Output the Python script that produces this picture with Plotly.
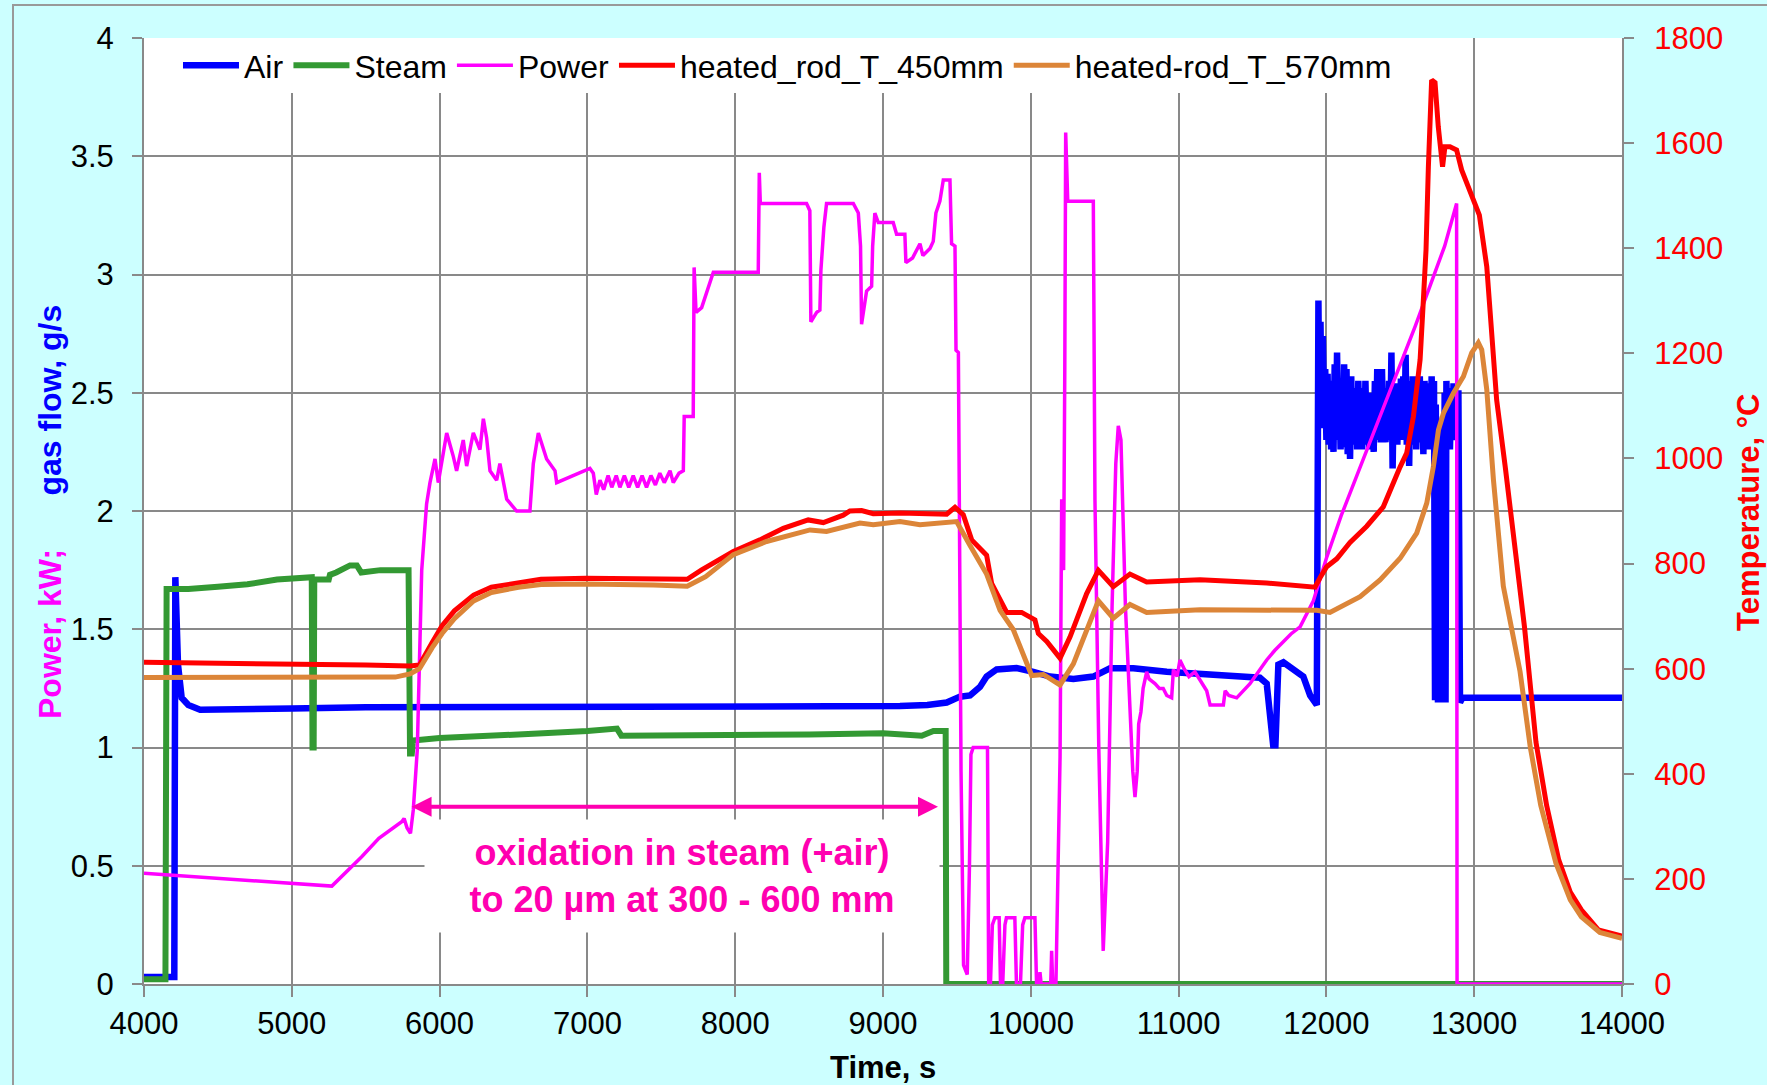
import plotly.graph_objects as go

# ---------------- data ----------------
air_t = [4000, 4195, 4205, 4212, 4230, 4255, 4300, 4380, 4500, 5000, 5500, 6000, 6500, 7000, 7500,
         8000, 8500, 9000, 9115, 9300, 9431, 9521, 9589, 9656, 9701, 9769, 9904, 10017, 10130, 10288,
         10423, 10536, 10694, 10920, 11145, 11370, 11550, 11596, 11625, 11640, 11655, 11675, 11709,
         11777, 11844, 11890, 11935,
         11946, 11952, 11960, 11968, 11976, 11984, 11992, 12000, 12008, 12016,
         12024, 12032, 12040, 12048, 12056, 12064, 12072, 12080, 12088, 12096,
         12104, 12112, 12120, 12128, 12136, 12144, 12152, 12160, 12168, 12176,
         12184, 12192, 12200, 12208, 12216, 12224, 12232, 12240, 12248, 12256,
         12264, 12272, 12280, 12288, 12296, 12304, 12312, 12320, 12328, 12336,
         12344, 12352, 12360, 12368, 12376, 12384, 12392, 12400, 12408, 12416,
         12424, 12432, 12440, 12448, 12456, 12464, 12472, 12480, 12488, 12496,
         12504, 12512, 12520, 12528, 12536, 12544, 12552, 12560, 12568, 12576,
         12584, 12592, 12600, 12608, 12616, 12624, 12632, 12640, 12648, 12656,
         12664, 12672, 12680, 12688, 12696, 12704, 12712, 12720, 12728, 12735,
         12740, 12745, 12750, 12755, 12760, 12765, 12770, 12775, 12780, 12785,
         12790, 12795, 12800, 12806, 12812, 12820, 12828, 12836, 12844, 12852,
         12860, 12868, 12876, 12884, 12893, 12904, 12920, 12950, 13500, 14000]
air_v = [0.03, 0.03, 0.03, 1.72, 1.35, 1.21, 1.18, 1.16, 1.16, 1.165, 1.17, 1.17, 1.17, 1.175, 1.175,
         1.175, 1.175, 1.175, 1.175, 1.18, 1.19, 1.215, 1.22, 1.256, 1.30, 1.33, 1.336, 1.32, 1.30, 1.29,
         1.30, 1.335, 1.335, 1.32, 1.31, 1.30, 1.295, 1.27, 1.10, 1.01, 1.01, 1.35, 1.36,
         1.33, 1.30, 1.22, 1.18,
         2.89, 2.40, 2.80, 2.35, 2.74, 2.43, 2.60, 2.30, 2.58, 2.28,
         2.55, 2.26, 2.52, 2.25, 2.62, 2.30, 2.67, 2.33, 2.55, 2.26,
         2.50, 2.27, 2.62, 2.30, 2.60, 2.24, 2.50, 2.22, 2.57, 2.30,
         2.50, 2.28, 2.52, 2.26, 2.55, 2.30, 2.48, 2.26, 2.52, 2.28,
         2.55, 2.31, 2.50, 2.26, 2.48, 2.28, 2.50, 2.25, 2.55, 2.30,
         2.60, 2.32, 2.58, 2.29, 2.60, 2.33, 2.52, 2.29, 2.50, 2.30,
         2.55, 2.32, 2.67, 2.18, 2.50, 2.30, 2.54, 2.28, 2.52, 2.30,
         2.56, 2.31, 2.57, 2.30, 2.66, 2.28, 2.50, 2.19, 2.55, 2.30,
         2.57, 2.28, 2.50, 2.26, 2.55, 2.29, 2.57, 2.30, 2.52, 2.24,
         2.55, 2.30, 2.50, 2.26, 2.54, 2.28, 2.57, 2.30, 2.55, 1.20,
         2.45, 1.19, 2.40, 1.19, 2.35, 1.19, 2.30, 1.19, 2.35, 1.19,
         2.40, 1.19, 2.50, 1.19, 2.55, 2.30, 2.52, 2.26, 2.50, 2.30,
         2.54, 2.35, 2.50, 2.33, 2.51, 1.19, 1.21, 1.21, 1.21, 1.21]

steam_t = [4000, 4145, 4153, 4300, 4500, 4700, 4900, 5100, 5135, 5140, 5148, 5152, 5250, 5258, 5300,
           5394, 5440, 5470, 5600, 5790, 5800, 5812, 5820, 6000, 6500, 6700, 7000, 7200, 7230, 7500,
           8000, 8500, 9000, 9262, 9341, 9424, 9428, 14000]
steam_v = [0.02, 0.02, 1.67, 1.67, 1.68, 1.69, 1.71, 1.72, 1.72, 1.00, 1.00, 1.71, 1.71, 1.73, 1.74,
           1.77, 1.77, 1.74, 1.75, 1.75, 0.975, 0.975, 1.03, 1.04, 1.05, 1.06, 1.07, 1.08, 1.05, 1.05,
           1.05, 1.055, 1.06, 1.05, 1.07, 1.07, 0.0, 0.0]

power_t = [4000, 5271, 5473, 5589, 5744, 5760, 5780, 5803, 5822, 5849, 5879, 5912, 5935, 5969, 5991,
           6048, 6093, 6115, 6160, 6183, 6228, 6273, 6296, 6318, 6341, 6386, 6408, 6454, 6521, 6611,
           6634, 6668, 6724, 6781, 6792, 6905, 7017, 7040, 7060, 7085, 7110, 7140, 7165, 7195, 7220,
           7250, 7280, 7310, 7340, 7370, 7400, 7430, 7460, 7490, 7520, 7559, 7581, 7620, 7649, 7655,
           7716, 7722, 7735, 7773, 7852, 8156, 8163, 8170, 8483, 8505, 8512, 8551, 8573, 8580, 8600,
           8618, 8799, 8833, 8848, 8855, 8870, 8889, 8923, 8930, 8945, 8968, 9069, 9092, 9148, 9155,
           9200, 9250, 9270, 9318, 9340, 9358, 9385, 9408, 9453, 9464, 9487, 9494, 9510, 9517, 9528,
           9545, 9570, 9585, 9595, 9610, 9707, 9715, 9727, 9740, 9757, 9786, 9795, 9810, 9825, 9835,
           9892, 9903, 9930, 9945, 9960, 10028, 10039, 10055, 10062, 10070, 10135, 10141, 10148, 10170,
           10198, 10209, 10222, 10230, 10236, 10250, 10423, 10434, 10460, 10490, 10520, 10550, 10575,
           10592, 10610, 10640, 10660, 10690, 10705, 10720, 10730, 10745, 10760, 10784, 10800, 10840,
           10870, 10896, 10920, 10953, 10965, 10990, 11009, 11040, 11070, 11110, 11150, 11190, 11213,
           11303, 11315, 11340, 11393, 11440, 11483, 11540, 11596, 11650, 11709, 11760, 11822, 11912,
           12000, 12100, 12200, 12300, 12400, 12500, 12600, 12700, 12800, 12881, 12884, 14000]
power_v = [0.468, 0.414, 0.538, 0.616, 0.686, 0.70, 0.66, 0.637, 0.736, 0.99, 1.75, 2.03, 2.12, 2.22, 2.12,
           2.33, 2.23, 2.17, 2.30, 2.19, 2.33, 2.26, 2.39, 2.31, 2.17, 2.13, 2.20, 2.05, 2.00, 2.00,
           2.20, 2.33, 2.22, 2.17, 2.12, 2.15, 2.18, 2.16, 2.07, 2.13, 2.09, 2.15, 2.10, 2.15, 2.10,
           2.15, 2.10, 2.15, 2.10, 2.15, 2.10, 2.15, 2.11, 2.16, 2.12, 2.17, 2.12, 2.16, 2.17, 2.40,
           2.40, 3.03, 2.84, 2.86, 3.01, 3.01, 3.43, 3.30, 3.30, 3.27, 2.80, 2.84, 2.85, 3.02, 3.20,
           3.30, 3.30, 3.26, 3.12, 2.79, 2.85, 2.93, 2.95, 3.12, 3.26, 3.22, 3.22, 3.17, 3.17, 3.05,
           3.07, 3.13, 3.08, 3.11, 3.14, 3.26, 3.31, 3.40, 3.40, 3.13, 3.12, 2.68, 2.67, 2.05, 0.9,
           0.08, 0.04, 0.5, 0.97, 1.0, 1.0, 0.0, 0.0, 0.25, 0.28, 0.28, 0.0, 0.0, 0.25, 0.28,
           0.28, 0.0, 0.0, 0.25, 0.28, 0.28, 0.0, 0.0, 0.05, 0.0, 0.0, 0.14, 0.0, 0.0,
           0.96, 2.05, 1.75, 2.60, 3.60, 3.31, 3.31, 2.05, 1.00, 0.14, 0.60, 1.60, 2.20,
           2.36, 2.30, 1.60, 1.30, 0.90, 0.79, 0.90, 1.10, 1.15, 1.25, 1.32, 1.29, 1.27,
           1.25, 1.25, 1.22, 1.21, 1.33, 1.30, 1.37, 1.33, 1.30, 1.32, 1.28, 1.24, 1.18,
           1.18, 1.24, 1.22, 1.21, 1.24, 1.27, 1.32, 1.37, 1.41, 1.45, 1.48, 1.51, 1.62,
           1.80, 1.98, 2.14, 2.30, 2.46, 2.61, 2.78, 2.95, 3.12, 3.30, 0.0, 0.0]

t450_t = [4000, 4500, 5000, 5500, 5800, 5864, 5950, 6017, 6100, 6230, 6350, 6534, 6686, 6990, 7447,
          7675, 7773, 7987, 8167, 8325, 8494, 8596, 8731, 8776, 8855, 8934, 9115, 9250, 9431, 9487,
          9543, 9600, 9701, 9735, 9837, 9938, 10028, 10051, 10108, 10198, 10265, 10378, 10457, 10558,
          10671, 10784, 11145, 11596, 11923, 11957, 12002, 12070, 12160, 12273, 12385, 12499, 12543,
          12589, 12634, 12656, 12674, 12690, 12712, 12735, 12757, 12786, 12802, 12836, 12881, 12915,
          12972, 13035, 13085, 13119, 13152, 13210, 13280, 13340, 13418, 13490, 13572, 13650, 13725,
          13840, 14000]
t450_v = [612, 611, 609, 607, 605, 607, 650, 682, 710, 740, 755, 764, 770, 772, 770,
          770, 788, 823, 845, 867, 883, 878, 892, 900, 901, 895, 896, 895, 894, 907,
          893, 845, 816, 762, 707, 707, 693, 667, 652, 620, 660, 743, 787, 756,
          780, 765, 769, 763, 755, 773, 794, 809, 840, 871, 908, 984, 1010,
          1080, 1188, 1301, 1397, 1555, 1720, 1715, 1631, 1555, 1593, 1593, 1587, 1549,
          1505, 1463, 1365, 1238, 1111, 984, 820, 680, 460, 340, 236, 175, 141,
          103, 91]

t570_t = [4000, 5000, 5500, 5700, 5800, 5864, 5950, 6017, 6100, 6230, 6350, 6534, 6686, 6990, 7447,
          7675, 7800, 7987, 8212, 8506, 8618, 8844, 8934, 9115, 9250, 9498, 9588, 9701, 9792, 9882,
          10006, 10085, 10198, 10288, 10457, 10558, 10671, 10784, 11145, 11934, 12024, 12093, 12228,
          12363, 12499, 12611, 12679, 12724, 12758, 12792, 12859, 12927, 12983, 13028, 13051, 13085,
          13130, 13197, 13265, 13310, 13380, 13450, 13553, 13650, 13725, 13850, 14000]
t570_v = [583, 583, 582, 584, 590, 600, 640, 667, 695, 729, 745, 755, 760, 761, 759,
          757, 775, 817, 842, 864, 861, 877, 874, 880, 874, 880, 835, 780, 711, 674,
          587, 589, 569, 609, 729, 696, 722, 707, 712, 711, 707, 718, 737,
          769, 810, 858, 915, 985, 1054, 1086, 1124, 1156, 1201, 1220, 1207, 1131,
          960, 757, 660, 595, 450, 340, 230, 160, 128, 98, 87]

x_ticks = [4000, 5000, 6000, 7000, 8000, 9000, 10000, 11000, 12000, 13000, 14000]
y_ticks = [0, 0.5, 1, 1.5, 2, 2.5, 3, 3.5, 4]
y2_ticks = [0, 200, 400, 600, 800, 1000, 1200, 1400, 1600, 1800]

FONT = "Arial, Liberation Sans, sans-serif"
GRID = "#898989"
PINK = "#FF00B0"

fig = go.Figure()
fig.add_trace(go.Scatter(x=air_t, y=air_v, name="Air", mode="lines",
                         line=dict(color="#0000FF", width=6.5)))
fig.add_trace(go.Scatter(x=steam_t, y=steam_v, name="Steam", mode="lines",
                         line=dict(color="#339933", width=6)))
fig.add_trace(go.Scatter(x=power_t, y=power_v, name="Power", mode="lines",
                         line=dict(color="#FF00FF", width=3.5)))
fig.add_trace(go.Scatter(x=t450_t, y=t450_v, name="heated_rod_T_450mm", mode="lines", yaxis="y2",
                         line=dict(color="#FF0000", width=5)))
fig.add_trace(go.Scatter(x=t570_t, y=t570_v, name="heated-rod_T_570mm", mode="lines", yaxis="y2",
                         line=dict(color="#DC8538", width=5)))

fig.update_layout(
    width=1767, height=1085, autosize=False,
    margin=dict(l=144, r=145, t=38, b=101),
    paper_bgcolor="#CCFFFF", plot_bgcolor="#FFFFFF",
    font=dict(family=FONT, size=31, color="#000000"),
    showlegend=True,
    legend=dict(orientation="h", x=0.023, y=1.0, xanchor="left", yanchor="top",
                bgcolor="#FFFFFF", borderwidth=0, font=dict(size=32, family=FONT),
                itemwidth=56, tracegroupgap=0),
    xaxis=dict(range=[4000, 14000], tickvals=x_ticks, tickformat="d", showgrid=True, gridcolor=GRID,
               gridwidth=2, showline=True, linecolor=GRID, linewidth=2, ticks="outside", ticklen=11,
               tickwidth=2, tickcolor=GRID, zeroline=False, ticklabelstandoff=0,
               tickfont=dict(size=31, color="#000000")),
    yaxis=dict(range=[0, 4], tickvals=y_ticks, showgrid=True, gridcolor=GRID, gridwidth=2,
               showline=True, linecolor=GRID, linewidth=2, ticks="outside", ticklen=10,
               tickwidth=2, tickcolor=GRID, zeroline=False, ticklabelstandoff=12,
               tickfont=dict(size=31, color="#000000")),
    yaxis2=dict(range=[0, 1800], tickvals=y2_ticks, tickformat="d", overlaying="y", side="right",
                showgrid=False, showline=True, linecolor=GRID, linewidth=2, ticks="outside", ticklen=10,
                tickwidth=2, tickcolor=GRID, zeroline=False, ticklabelstandoff=14,
                tickfont=dict(size=31, color="#FF0000")),
)

L, T, PW, PH = 144, 38, 1478, 946


def px_x(p):
    return (p - L) / PW


def px_y(p):
    return (T + PH - p) / PH


annotations = [
    dict(text="<b>Time, s</b>", xref="paper", yref="paper", x=0.5, y=px_y(1067),
         xanchor="center", yanchor="middle", showarrow=False, font=dict(size=31, family=FONT, color="#000000")),
    dict(text="<b><span style='color:#FF00FF'>Power, kW;</span>" + "&nbsp;" * 6 +
              "<span style='color:#0000FF'>gas flow, g/s</span></b>",
         xref="paper", yref="paper", x=px_x(50), y=px_y(512), textangle=-90,
         xanchor="center", yanchor="middle", showarrow=False, font=dict(size=32, family=FONT)),
    dict(text="<b>Temperature, °C</b>", xref="paper", yref="paper", x=px_x(1748), y=px_y(512),
         textangle=-90, xanchor="center", yanchor="middle", showarrow=False,
         font=dict(size=31, family=FONT, color="#FF0000")),
    dict(text="<b>oxidation in steam (+air)<br>to 20 µm at 300 - 600 mm</b>", xref="x", yref="y",
         x=7640, y=0.457, xanchor="center", yanchor="middle", showarrow=False,
         bgcolor="#FFFFFF", width=514, height=112, borderpad=0,
         font=dict(size=36, family=FONT, color=PINK)),
    dict(text="", xref="x", yref="y", x=9372, y=0.75, ax=5800, ay=0.75, axref="x", ayref="y",
         showarrow=True, arrowhead=2, startarrowhead=2, arrowside="end+start",
         arrowwidth=4, arrowsize=1, startarrowsize=1, arrowcolor=PINK),
]
fig.update_layout(annotations=annotations)

fig.add_shape(type="rect", xref="paper", yref="paper",
              x0=px_x(13), x1=px_x(1800), y0=px_y(1120), y1=px_y(5),
              line=dict(color="#999999", width=2), fillcolor="rgba(0,0,0,0)", layer="above")

fig.write_html("out.html", config={"displayModeBar": False},
               post_script="document.body.style.margin='0px';")
